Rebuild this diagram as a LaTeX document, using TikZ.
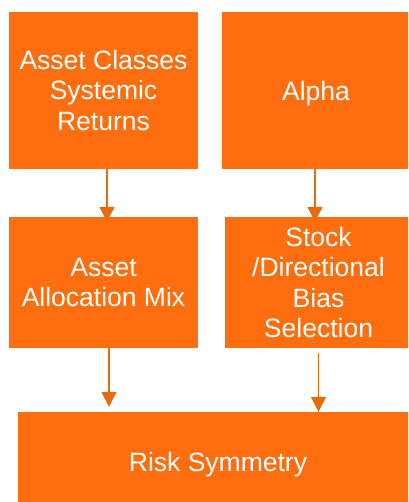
\documentclass[tikz,border=0pt]{standalone}
\usepackage{fontspec}
\setmainfont{Liberation Sans}
\definecolor{boxorange}{RGB}{255, 110, 14}
\definecolor{arroworange}{RGB}{228, 108, 10}
\usetikzlibrary{arrows.meta, positioning}

\begin{document}
\begin{tikzpicture}[x=1pt, y=-1pt,
  obox/.style={fill=boxorange, text=white, align=center, inner sep=0pt, font=\fontsize{26.5}{30.5}\selectfont},
  flow/.style={draw=arroworange, line width=1.5pt, -{Triangle[width=15pt, length=15pt]}}
]
  \clip (0,0) rectangle (408,502);
  \node[obox, minimum width=189pt, minimum height=157pt] (classes) at (103.5, 90.5) {Asset Classes\\Systemic\\Returns};
  \node[obox, minimum width=188pt, minimum height=157pt, text depth=0pt] (alpha) at (316, 90.5) {Alpha};
  \node[obox, minimum width=189pt, minimum height=131pt] (mix) at (103.5, 282.5) {Asset\\Allocation Mix};
  \node[obox, minimum width=187pt, minimum height=131pt] (stock) at (318.5, 282.5) {Stock\\/Directional\\Bias\\Selection};
  \node[obox, minimum width=400pt, minimum height=100pt, text depth=0pt] (risk) at (218, 462) {Risk Symmetry};

  \draw[flow] ([xshift=3.5pt]classes.south) -- ([xshift=3.5pt, yshift=-5pt]mix.north);
  \draw[flow] ([xshift=-1pt]alpha.south) -- ([xshift=-1pt, yshift=-5pt]stock.north -| alpha.south);
  \draw[flow] ([xshift=5.5pt]mix.south) -- ([xshift=5.5pt, yshift=5pt]risk.north -| mix.south);
  \draw[flow] ([yshift=-5pt]stock.south) -- (stock.south |- risk.north);
\end{tikzpicture}
\end{document}
